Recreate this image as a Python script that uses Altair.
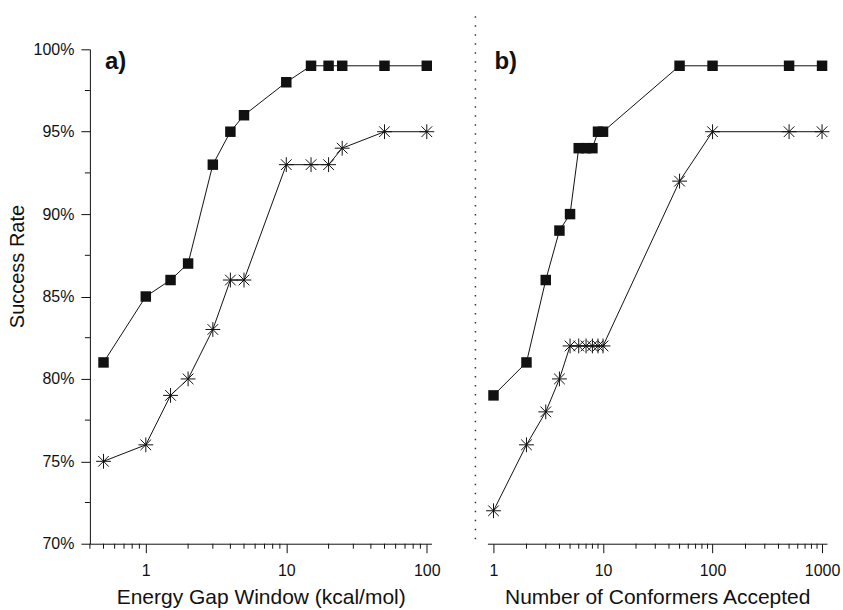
import altair as alt
import pandas as pd

# ---- data ----
a_x = [0.5, 1, 1.5, 2, 3, 4, 5, 10, 15, 20, 25, 50, 100]
a_squares = [81, 85, 86, 87, 93, 95, 96, 98, 99, 99, 99, 99, 99]
a_stars = [75, 76, 79, 80, 83, 86, 86, 93, 93, 93, 94, 95, 95]

b_x = [1, 2, 3, 4, 5, 6, 7, 8, 9, 10, 50, 100, 500, 1000]
b_squares = [79, 81, 86, 89, 90, 94, 94, 94, 95, 95, 99, 99, 99, 99]
b_stars = [72, 76, 78, 80, 82, 82, 82, 82, 82, 82, 92, 95, 95, 95]

y_major = [70, 75, 80, 85, 90, 95, 100]
y_minor = [72.5, 77.5, 82.5, 87.5, 92.5, 97.5]
a_major = [1, 10, 100]
a_minor = [0.4, 0.5, 0.6, 0.7, 0.8, 0.9, 2, 3, 4, 5, 6, 7, 8, 9,
           20, 30, 40, 50, 60, 70, 80, 90]
b_major = [1, 10, 100, 1000]
b_minor = [2, 3, 4, 5, 6, 7, 8, 9, 20, 30, 40, 50, 60, 70, 80, 90,
           200, 300, 400, 500, 600, 700, 800, 900]

a_title = "Energy Gap Window (kcal/mol)"
b_title = "Number of Conformers Accepted"
y_title = "Success Rate"

FONT = "Liberation Sans"
INK = "#111111"
STAR = "M-1,0L1,0M0,-1L0,1M-0.72,-0.72L0.72,0.72M-0.72,0.72L0.72,-0.72"

W_A, W_B, H = 342, 340, 495


def panel(xs, sq, st, domain, major, minor, xtitle, label, width, show_y):
    df = pd.DataFrame({
        "x": xs + xs,
        "y": sq + st,
        "s": ["sq"] * len(xs) + ["st"] * len(xs),
    })
    xscale = alt.Scale(type="log", domain=domain, nice=False)
    yscale = alt.Scale(domain=[70, 100], nice=False, zero=False)
    xaxis = alt.Axis(
        values=major, format="~g", title=xtitle, grid=False,
        tickSize=9, tickColor=INK, domainColor=INK,
        labelFontSize=16, labelColor=INK, labelFont=FONT, labelPadding=10,
        titleFontSize=21, titleFontWeight="normal", titleColor=INK,
        titleFont=FONT, titleBaseline="alphabetic", titleX=width / 2, titleY=60,
    )
    if show_y:
        yaxis = alt.Axis(
            values=y_major, labelExpr="datum.value + '%'", title=y_title,
            grid=False, tickSize=9, tickColor=INK, domainColor=INK,
            labelFontSize=16, labelColor=INK, labelFont=FONT, labelPadding=7,
            titleFontSize=20, titleFontWeight="normal", titleColor=INK,
            titleFont=FONT, titleX=-62, titleY=217,
        )
    else:
        yaxis = None

    base = alt.Chart(df)
    line = base.mark_line(color=INK, strokeWidth=1).encode(
        x=alt.X("x:Q", scale=xscale, axis=xaxis),
        y=alt.Y("y:Q", scale=yscale, axis=yaxis),
        detail="s:N",
    )
    squares = base.transform_filter("datum.s == 'sq'").mark_point(
        shape="square", filled=True, color=INK, size=110, opacity=1
    ).encode(x="x:Q", y="y:Q")
    stars = base.transform_filter("datum.s == 'st'").mark_point(
        shape=STAR, filled=False, color=INK, size=220, strokeWidth=1, opacity=1
    ).encode(x="x:Q", y="y:Q")
    xminor = alt.Chart(pd.DataFrame({"x": minor})).mark_rule(
        color=INK, strokeWidth=1
    ).encode(
        x="x:Q",
        y=alt.value(H), y2=alt.value(H + 5),
    )
    lab = alt.Chart(pd.DataFrame({"t": [label]})).mark_text(
        font=FONT, fontSize=24, fontWeight="bold", color=INK,
        align="left", baseline="alphabetic",
    ).encode(text="t:N", x=alt.value(15 if show_y else 7), y=alt.value(20))

    layers = [line, squares, stars, xminor, lab]
    if show_y:
        yminor = alt.Chart(pd.DataFrame({"y": y_minor})).mark_rule(
            color=INK, strokeWidth=1
        ).encode(
            y="y:Q",
            x=alt.value(-5), x2=alt.value(0),
        )
        layers.append(yminor)
    else:
        divider = alt.Chart(pd.DataFrame({"d": [0]})).mark_rule(
            color="#333333", strokeWidth=1.5, strokeDash=[1.5, 7.5]
        ).encode(x=alt.value(-12), y=alt.value(-33), y2=alt.value(H))
        layers.append(divider)

    return alt.layer(*layers).properties(width=width, height=H)


pa = panel(a_x, a_squares, a_stars, [0.4, 108], a_major, a_minor,
           a_title, "a)", W_A, True)
pb = panel(b_x, b_squares, b_stars, [0.88, 1110], b_major, b_minor,
           b_title, "b)", W_B, False)

chart = alt.hconcat(pa, pb, spacing=56, bounds="flush").properties(
    padding={"left": 8, "top": 15, "right": 3, "bottom": 3},
    background="white",
).configure_view(stroke=None)

chart.save("out.html", embed_options={"renderer": "svg", "actions": False})
